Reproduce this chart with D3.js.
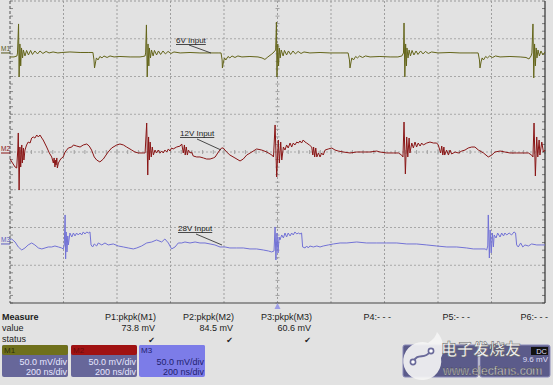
<!DOCTYPE html>
<html><head><meta charset="utf-8">
<script src="https://cdn.jsdelivr.net/npm/d3@7"></script>
<style>html,body{margin:0;padding:0;background:#e2e2e2;}svg{display:block;}</style>
</head><body>
<svg id="chart" width="553" height="385"></svg>
<script>
// ---- data: [time ns, mV relative to channel reference] ----
const m1Data = [[0,-6.6],[15,-6.6],[26,-5.3],[28,-1.3],[32,37.1],[34,-33.1],[37,10.6],[40,-18.5],[43,5.3],[47,-7.9],[50,2.6],[56,-5.3],[62,2.0],[69,-4.0],[77,2.0],[84,-3.3],[93,1.3],[103,-2.6],[112,1.3],[123,-2.0],[135,0.7],[146,-1.3],[161,0],[179,-1.3],[194,-0.7],[224,0],[262,-0.7],[292,-0.7],[310,-0.7],
[314,-10.6],[316,-21.2],[320,-13.2],[323,-7.9],[329,-10.6],[336,-6.0],[344,-7.9],[351,-5.3],[363,-7.3],[374,-5.3],[389,-6.6],[411,-6.0],[449,-6.6],[486,-6.6],[497,-6.0],[505,-5.3],
[507,-1.3],[510,35.8],[513,-33.1],[516,10.6],[519,-18.5],[521,5.3],[525,-7.9],[529,2.6],[535,-5.3],[540,2.0],[548,-4.0],[555,1.3],[563,-3.3],[572,1.3],[581,-2.6],[591,0.7],[602,-2.0],[613,0],[636,-1.3],[673,-0.7],[710,-1.3],[748,-1.3],[778,-1.3],[789,-1.3],
[793,-10.6],[794,-21.2],[798,-13.2],[802,-7.9],[807,-10.6],[815,-6.0],[822,-7.9],[830,-5.3],[841,-7.3],[852,-5.3],[867,-6.6],[897,-6.0],[927,-6.6],[942,-7.9],[953,-9.9],[964,-6.6],[979,-2.6],[987,0],
[993,2.6],[996,39.7],[998,-33.1],[1001,10.6],[1004,-18.5],[1007,5.3],[1010,-7.9],[1014,2.6],[1021,-5.3],[1026,2.0],[1034,-4.0],[1041,1.3],[1049,-3.3],[1058,1.3],[1067,-2.6],[1077,0.7],[1088,-2.0],[1099,0],[1121,-1.3],[1159,-0.7],[1196,-1.3],[1234,-1.3],[1264,-1.3],
[1269,-10.6],[1271,-21.2],[1275,-13.2],[1278,-7.9],[1284,-10.6],[1292,-6.0],[1299,-7.9],[1307,-5.3],[1318,-7.3],[1329,-5.3],[1346,-6.6],[1383,-6.0],[1421,-6.6],[1450,-6.6],[1465,-5.3],[1471,-1.3],
[1473,38.4],[1476,-33.1],[1479,10.6],[1482,-18.5],[1484,5.3],[1488,-7.9],[1492,2.6],[1497,-5.3],[1503,2.0],[1510,-4.0],[1518,1.3],[1525,-3.3],[1535,1.3],[1544,-2.6],[1553,0.7],[1564,-2.0],[1576,0],[1600,-1.3],[1645,-0.7],[1682,-1.3],[1720,-1.3],[1750,-1.3],
[1755,-10.6],[1757,-21.2],[1761,-13.2],[1765,-7.9],[1770,-10.6],[1778,-6.0],[1785,-7.9],[1793,-5.3],[1804,-7.3],[1815,-5.3],[1832,-6.6],[1869,-6.0],[1907,-6.6],[1929,-7.3],[1940,-9.3],[1948,-5.3],[1951,-1.3],
[1955,37.1],[1958,-34.4],[1961,10.6],[1964,-18.5],[1967,5.3],[1970,-7.9],[1974,2.6],[1979,-5.3],[1985,1.3],[1992,-4.0],[2000,0]];

const m2Data = [[0,-9.3],[19,-19.9],[25,-21.2],[29,2.6],[31,25.2],[34,-50.3],[37,6.6],[40,-19.9],[44,9.3],[46,-14.6],[50,5.3],[52,-10.6],[56,2.6],[62,9.3],[68,13.2],[75,11.9],[81,18.5],[87,19.9],[93,18.5],[100,22.5],[106,19.9],[112,22.5],[119,18.5],[124,15.9],[137,6.6],[147,-1.3],[156,-6.6],[162,-14.6],[165,-7.9],[168,-19.9],[171,-10.6],[172,-17.2],[175,-7.9],[177,-21.2],[181,-14.6],[187,-10.6],[193,-7.9],[199,-6.6],[206,0],[212,2.6],[218,5.3],[231,6.6],[237,9.3],[249,7.9],[262,6.6],[274,9.3],[287,10.6],[296,7.9],[305,2.6],[315,-6.6],[324,-10.6],[336,-13.2],[349,-9.3],[359,-4.0],[367,0],[380,5.3],[399,9.3],[411,10.6],[424,9.3],[436,6.6],[455,2.6],[467,0],[480,-1.3],[498,-1.3],[505,-1.3],
[511,38.4],[515,-30.5],[518,19.9],[521,-10.6],[524,13.2],[528,-6.6],[532,6.6],[536,-4.0],[542,2.6],[548,-1.3],[554,2.6],[561,-1.3],[567,1.3],[573,-1.3],[579,2.6],[586,0],[592,4.0],[598,1.3],[604,5.3],[610,4.0],[623,6.6],[636,7.9],[642,10.6],[648,-1.3],[652,9.3],[655,-4.0],[659,6.6],[663,-4.0],[667,2.6],[673,-1.3],[679,0],[685,-5.3],[698,-6.6],[710,-6.6],[723,-7.9],[735,-9.3],[748,-9.3],[760,-7.9],[767,-6.6],[779,0],[791,5.3],[797,5.3],[810,0],[822,-4.0],[841,-7.9],[860,-11.9],[872,-9.3],[885,-4.0],[904,0],[922,4.0],[941,2.6],[960,0],[979,-4.0],[985,-6.6],
[991,35.8],[997,-33.1],[1003,15.9],[1007,-14.6],[1012,13.2],[1016,-10.6],[1022,6.6],[1028,2.6],[1034,9.3],[1040,5.3],[1047,11.9],[1053,6.6],[1059,11.9],[1065,9.3],[1072,13.2],[1078,11.9],[1084,14.6],[1090,11.9],[1096,15.9],[1103,13.2],[1109,11.9],[1119,9.3],[1128,6.6],[1132,-4.0],[1135,6.6],[1139,-6.6],[1143,5.3],[1147,-6.6],[1153,-1.3],[1159,-6.6],[1165,-1.3],[1171,-4.0],[1178,2.6],[1190,4.0],[1203,5.3],[1215,2.6],[1227,1.3],[1246,0],[1271,-1.3],[1296,0],[1321,0],[1346,0],[1371,1.3],[1383,0],[1408,-1.3],[1433,-1.3],[1452,-1.3],[1464,-4.0],[1469,-6.6],
[1473,39.7],[1478,-29.1],[1483,19.9],[1487,-6.6],[1492,18.5],[1495,-1.3],[1502,11.9],[1508,5.3],[1514,13.2],[1520,6.6],[1526,11.9],[1533,7.9],[1539,11.9],[1545,9.3],[1558,11.9],[1570,13.2],[1583,11.9],[1595,11.9],[1601,9.3],[1610,-1.3],[1614,7.9],[1618,-4.0],[1622,6.6],[1625,-4.0],[1632,2.6],[1639,-4.0],[1645,2.6],[1651,-2.6],[1664,0],[1676,-1.3],[1689,1.3],[1701,2.6],[1713,5.3],[1726,6.6],[1738,6.6],[1751,2.6],[1770,-1.3],[1788,-6.6],[1801,-4.0],[1813,0],[1832,1.3],[1850,0],[1869,-1.3],[1894,-1.3],[1919,-1.3],[1938,-1.3],[1950,-4.0],[1955,-6.6],
[1959,38.4],[1964,-31.8],[1969,19.9],[1973,-6.6],[1978,15.9],[1981,-4.0],[1988,13.2],[1994,0],[2000,2.6]];

const m3Data = [[0,4.0],[6,5.3],[19,1.3],[31,-5.3],[44,-9.3],[56,-6.6],[68,-2.6],[81,0],[93,-2.6],[106,-6.6],[119,-7.9],[131,-6.6],[143,-5.3],[156,-5.3],[168,-4.0],[181,-5.3],[193,-6.6],[199,-7.9],[203,-2.6],
[206,37.1],[208,-21.2],[210,14.6],[213,-11.9],[216,9.3],[218,-2.6],[224,13.2],[231,7.9],[237,13.2],[243,9.3],[249,13.2],[255,10.6],[262,13.2],[268,10.6],[274,14.6],[280,11.9],[287,14.6],[293,13.2],[299,14.6],[303,-2.6],[309,-5.3],[315,-1.3],[324,-4.0],[330,0],[343,-2.6],[355,0],[367,-2.6],[386,-1.3],[405,-4.0],[424,-5.3],[442,-6.6],[461,-7.9],[474,-6.6],[492,-4.0],[511,0],[530,1.3],[548,4.0],[567,1.3],[579,5.3],[592,0],[604,-7.9],[617,-5.3],[629,0],[642,0],[654,1.3],[673,0],[692,1.3],[710,0],[729,0],[748,-1.3],[766,-2.6],[785,-5.3],[804,-5.3],[822,-6.6],[847,-6.6],[872,-6.6],[897,-7.9],[922,-7.9],[947,-9.3],[966,-10.6],[978,-11.9],[987,-10.6],
[991,21.2],[994,-22.5],[998,13.2],[1002,-13.2],[1006,7.9],[1009,4.0],[1016,10.6],[1022,6.6],[1028,13.2],[1034,7.9],[1040,13.2],[1047,9.3],[1053,13.2],[1059,10.6],[1065,14.6],[1072,11.9],[1078,13.2],[1084,11.9],[1090,13.2],[1094,-5.3],[1103,-6.6],[1109,-4.0],[1115,-6.6],[1121,-4.0],[1134,-5.3],[1147,-4.0],[1159,-5.3],[1171,-4.0],[1190,-2.6],[1209,-1.3],[1234,0],[1259,0],[1296,1.3],[1333,0],[1371,0],[1408,0],[1446,0],[1483,-1.3],[1520,-1.3],[1558,-2.6],[1595,-4.0],[1633,-5.3],[1670,-5.3],[1707,-6.6],[1732,-7.9],[1757,-7.9],[1776,-7.9],[1782,-9.3],[1786,-4.0],
[1788,37.1],[1792,-19.9],[1795,17.2],[1799,-13.2],[1803,13.2],[1807,-5.3],[1810,10.6],[1817,6.6],[1823,13.2],[1832,7.9],[1838,13.2],[1845,9.3],[1850,13.2],[1857,10.6],[1866,13.2],[1875,10.6],[1884,14.6],[1890,13.2],[1894,-2.6],[1900,-5.3],[1909,0],[1917,-5.3],[1925,-2.6],[1938,-4.0],[1950,-1.3],[1969,-2.6],[1988,-2.6],[2000,-2.6]];

const channelNames = ["M1", "M2", "M3"];
const channelOffsets = [132.5, 0, -120.5];   // mV position of each trace reference
const channelScales = ["50.0 mV/div", "50.0 mV/div", "50.0 mV/div"];
const channelTimebase = ["200 ns/div", "200 ns/div", "200 ns/div"];
const traceLabels = ["6V Input", "12V Input", "28V Input"];
const measureNames = ["P1:pkpk(M1)", "P2:pkpk(M2)", "P3:pkpk(M3)", "P4:- - -", "P5:- - -", "P6:- - -"];
const measureValues = ["73.8 mV", "84.5 mV", "60.6 mV", "", "", ""];
const measureStatus = [true, true, true, false, false, false];
const timeTicks = [0, 200, 400, 600, 800, 1000, 1200, 1400, 1600, 1800, 2000];
const voltTicks = [-200, -150, -100, -50, 0, 50, 100, 150, 200];

// ---- drawing ----
const svg = d3.select("#chart");
const font = "'Liberation Sans', Arial, sans-serif";
svg.append("rect").attr("width", 553).attr("height", 385).attr("fill", "#e2e2e2");

const x = d3.scaleLinear().domain([0, 2000]).range([10, 545]);
const y = d3.scaleLinear().domain([-200, 200]).range([303, 1]);

const grid = svg.append("g");
grid.selectAll("line.v").data(timeTicks.slice(1, -1)).join("line")
  .attr("x1", d => x(d)).attr("x2", d => x(d)).attr("y1", y(200)).attr("y2", y(-200))
  .attr("stroke", "#9e9e9e").attr("stroke-width", 1).attr("stroke-dasharray", "2,2");
grid.selectAll("line.h").data(voltTicks.slice(1, -1)).join("line")
  .attr("x1", x(0)).attr("x2", x(2000)).attr("y1", d => y(d)).attr("y2", d => y(d))
  .attr("stroke", "#a8a8a8").attr("stroke-width", 1).attr("stroke-dasharray", "2,2");
const minorT = d3.range(0, 2001, 40), minorV = d3.range(-200, 201, 10);
grid.selectAll("line.mt").data(minorT).join("line")
  .attr("x1", d => x(d)).attr("x2", d => x(d)).attr("y1", y(0) - 2).attr("y2", y(0) + 2)
  .attr("stroke", "#a0a0a0");
grid.selectAll("line.mv").data(minorV).join("line")
  .attr("x1", x(1000) - 2).attr("x2", x(1000) + 2).attr("y1", d => y(d)).attr("y2", d => y(d))
  .attr("stroke", "#a0a0a0");
grid.selectAll("line.mr").data(minorV).join("line")
  .attr("x1", x(2000) - 3).attr("x2", x(2000)).attr("y1", d => y(d)).attr("y2", d => y(d))
  .attr("stroke", "#777");
grid.selectAll("line.ml").data(minorV).join("line")
  .attr("x1", x(0)).attr("x2", x(0) + 3).attr("y1", d => y(d)).attr("y2", d => y(d))
  .attr("stroke", "#888");
grid.append("line").attr("x1", x(0)).attr("x2", x(2000)).attr("y1", y(200)).attr("y2", y(200)).attr("stroke", "#999").attr("stroke-dasharray", "2,2");
grid.append("line").attr("x1", x(0)).attr("x2", x(0)).attr("y1", y(200)).attr("y2", y(-200)).attr("stroke", "#555").attr("stroke-dasharray", "3,2");
grid.append("line").attr("x1", x(2000)).attr("x2", x(2000)).attr("y1", y(200)).attr("y2", y(-200)).attr("stroke", "#333").attr("stroke-width", 1.2);
grid.append("line").attr("x1", x(0)).attr("x2", x(2000)).attr("y1", y(-200)).attr("y2", y(-200)).attr("stroke", "#444").attr("stroke-width", 1.2);

// traces
const colors = ["#64651a", "#8a1616", "#7272d6"];
const series = [m1Data, m2Data, m3Data];
series.forEach((data, i) => {
  const line = d3.line().x(d => x(d[0])).y(d => y(d[1] + channelOffsets[i]));
  svg.append("path").datum(data).attr("d", line)
    .attr("fill", "none").attr("stroke", colors[i]).attr("stroke-width", 1)
    .attr("stroke-linejoin", "round");
});

// channel reference labels at left
const refColors = ["#55561a", "#8a1616", "#5b5bc0"];
channelNames.forEach((n, i) => {
  const yy = y(channelOffsets[i]);
  svg.append("text").attr("x", 1).attr("y", yy - 1).text(n)
    .attr("font-family", font).attr("font-size", 6.5).attr("fill", refColors[i]);
  svg.append("line").attr("x1", 1).attr("x2", 10).attr("y1", yy + 1).attr("y2", yy + 1)
    .attr("stroke", refColors[i]).attr("stroke-width", 1);
});

// trace annotations
const annPos = [
  {tx: 176, ty: 43, lx1: 189, ly1: 45, lx2: 211, ly2: 53},
  {tx: 180, ty: 136, lx1: 197, ly1: 139, lx2: 221, ly2: 150},
  {tx: 178, ty: 231, lx1: 196, ly1: 234, lx2: 222, ly2: 245}
];
traceLabels.forEach((t, i) => {
  const p = annPos[i];
  const txt = svg.append("text").attr("x", p.tx).attr("y", p.ty).text(t)
    .attr("font-family", font).attr("font-size", 8).attr("fill", "#222");
  const w = txt.node().getComputedTextLength();
  svg.append("line").attr("x1", p.tx).attr("x2", p.tx + w).attr("y1", p.ty + 1.5).attr("y2", p.ty + 1.5)
    .attr("stroke", "#222").attr("stroke-width", 0.8);
  svg.append("line").attr("x1", p.lx1).attr("x2", p.lx2).attr("y1", p.ly1).attr("y2", p.ly2)
    .attr("stroke", "#222").attr("stroke-width", 0.8);
});

// trigger marker
svg.append("path").attr("d", `M${x(1000)},303 l-3,6 l6,0 z`).attr("fill", "#9c9ce6");

// measurement table
const tb = svg.append("g").attr("font-family", font).attr("font-size", 9).attr("fill", "#1c1c1c");
tb.append("text").attr("x", 2).attr("y", 320).text("Measure").attr("font-weight", "bold");
tb.append("text").attr("x", 2).attr("y", 331).text("value");
tb.append("text").attr("x", 2).attr("y", 342).text("status");
const measRight = [156, 234, 312, 391, 470, 548];
measureNames.forEach((n, i) => {
  tb.append("text").attr("x", measRight[i]).attr("y", 320).attr("text-anchor", "end").text(n);
  if (measureValues[i]) tb.append("text").attr("x", measRight[i] - 1).attr("y", 331).attr("text-anchor", "end").text(measureValues[i]);
  if (measureStatus[i]) tb.append("text").attr("x", measRight[i] - 1).attr("y", 343).attr("text-anchor", "end")
    .attr("font-family", "'DejaVu Sans', sans-serif").attr("font-size", 8).text("\u2714");
});

// channel boxes
const boxX = [2, 71, 139];
const stripeCol = ["#6f701c", "#a01212", "#7c7ce8"];
const bodyCol = ["#67679a", "#67679a", "#7c7ce8"];
const bodyText = ["#e6e6ff", "#e6e6ff", "#1f1f6e"];
const labelCol = ["#2e2e0a", "#6a0a0a", "#1f1f6e"];
channelNames.forEach((n, i) => {
  const g = svg.append("g").attr("font-family", font);
  g.append("rect").attr("x", boxX[i]).attr("y", 345).attr("width", 66).attr("height", 32).attr("rx", 2).attr("fill", bodyCol[i]);
  g.append("rect").attr("x", boxX[i]).attr("y", 345).attr("width", 66).attr("height", 10).attr("rx", 2).attr("fill", stripeCol[i]);
  g.append("text").attr("x", boxX[i] + 2).attr("y", 353).text(n).attr("font-size", 8).attr("fill", labelCol[i]);
  g.append("text").attr("x", boxX[i] + 65).attr("y", 365).attr("text-anchor", "end").text(channelScales[i]).attr("font-size", 9).attr("fill", bodyText[i]);
  g.append("text").attr("x", boxX[i] + 65).attr("y", 375).attr("text-anchor", "end").text(channelTimebase[i]).attr("font-size", 9).attr("fill", bodyText[i]);
});

// timebase / trigger boxes (only the parts not hidden by the watermark)
const rb = svg.append("g").attr("font-family", font).attr("font-size", 9).attr("fill", "#dcdcf6");
rb.append("rect").attr("x", 403).attr("y", 345).attr("width", 75).attr("height", 32).attr("rx", 2).attr("fill", "#5b5b8a").attr("stroke", "#8a8ab8");
rb.append("rect").attr("x", 480).attr("y", 345).attr("width", 70).attr("height", 32).attr("rx", 2).attr("fill", "#5b5b8a").attr("stroke", "#8a8ab8");
rb.append("rect").attr("x", 531).attr("y", 347).attr("width", 17).attr("height", 8).attr("fill", "#111");
rb.append("text").attr("x", 547).attr("y", 354).attr("text-anchor", "end").text("DC").attr("font-size", 7.5);
rb.append("text").attr("x", 548).attr("y", 362).attr("text-anchor", "end").text("9.6 mV").attr("font-size", 8);

// watermark
const wm = svg.append("g");
wm.append("path").attr("d", "M424,380 A19,19 0 1 1 428,343 C433,340 436,336 437,332 C444,340 445,350 441,358 A19,19 0 0 1 424,380 Z")
  .attr("fill", "#f4f4f4").attr("opacity", 0.92);
wm.append("path").attr("d", "M413,362 C418,352 424,360 430,352").attr("fill", "none").attr("stroke", "#6a6a9a").attr("stroke-width", 2);
wm.append("circle").attr("cx", 413).attr("cy", 362).attr("r", 2.6).attr("fill", "#fff").attr("stroke", "#6a6a9a").attr("stroke-width", 1.6);
wm.append("circle").attr("cx", 431).attr("cy", 351).attr("r", 2.6).attr("fill", "#fff").attr("stroke", "#6a6a9a").attr("stroke-width", 1.6);
wm.append("text").attr("x", 441).attr("y", 355).text("电子发烧友")
  .attr("font-family", "'Noto Sans CJK SC', sans-serif").attr("font-size", 16).attr("font-weight", "bold")
  .attr("fill", "#f6f6f6").attr("stroke", "#555").attr("stroke-width", 0.5).attr("opacity", 0.95);
wm.append("text").attr("x", 443).attr("y", 374.5).text("www.elecfans.com")
  .attr("font-family", font).attr("font-size", 12)
  .attr("fill", "#f6f6f6").attr("stroke", "#444").attr("stroke-width", 0.4).attr("opacity", 0.95);
</script>
</body></html>
